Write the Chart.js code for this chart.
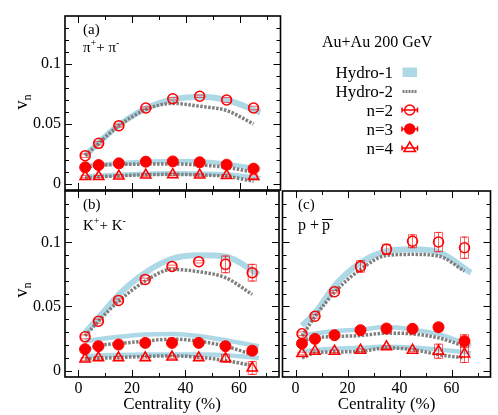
<!DOCTYPE html>
<html>
<head>
<meta charset="utf-8">
<script src="https://cdn.jsdelivr.net/npm/chart.js@4.4.1/dist/chart.umd.min.js"></script>
<style>
  body { margin: 0; background: #fff; }
  #wrap { position: relative; width: 498px; height: 415px; overflow: hidden; }
  canvas { position: absolute; }
  svg { position: absolute; left: 0; top: 0; }
</style>
</head>
<body>
<div id="wrap">
  <canvas id="pa" width="290" height="205" style="left:0px;top:0px"></canvas>
  <canvas id="pb" width="290" height="240" style="left:0px;top:175px"></canvas>
  <canvas id="pc" width="223" height="240" style="left:275px;top:175px"></canvas>
  <svg width="498" height="415" font-family="Liberation Serif, serif">
    <!-- y axis titles -->
    <text transform="translate(27,102) rotate(-90)" font-size="18" text-anchor="middle">v<tspan font-size="12" dy="4">n</tspan></text>
    <text transform="translate(27,290) rotate(-90)" font-size="18" text-anchor="middle">v<tspan font-size="12" dy="4">n</tspan></text>

    <!-- panel labels -->
    <g font-size="15">
      <text x="83" y="34">(a)</text>
      <text x="83" y="52">π<tspan font-size="10" dy="-6">+</tspan><tspan dy="6">+ π</tspan><tspan font-size="10" dy="-6">-</tspan></text>
      <text x="83" y="209">(b)</text>
      <text x="83" y="230">K<tspan font-size="10" dy="-6">+</tspan><tspan dy="6">+ K</tspan><tspan font-size="10" dy="-6">-</tspan></text>
      <text x="298" y="209">(c)</text>
      <text x="298" y="230" font-size="16">p +</text>
      <text x="322" y="230" font-size="16">p</text>
    </g>
    <line x1="322" y1="219.5" x2="333" y2="219.5" stroke="#000" stroke-width="1"/>

    <!-- legend -->
    <text x="322" y="46.5" font-size="16">Au+Au 200 GeV</text>
    <g font-size="17" text-anchor="end">
      <text x="393" y="77.5">Hydro-1</text>
      <text x="393" y="96.5">Hydro-2</text>
      <text x="393" y="115.5">n=2</text>
      <text x="393" y="134.5">n=3</text>
      <text x="393" y="153.5">n=4</text>
    </g>
    <rect x="402.5" y="67.5" width="14.5" height="9.5" fill="#add8e6"/>
    <line x1="402.5" y1="91.5" x2="417" y2="91.5" stroke="#7f7f7f" stroke-width="3" stroke-dasharray="2 1"/>
    <g stroke="#f00" stroke-width="1.5" fill="none">
      <circle cx="409.7" cy="110" r="5"/>
      <path d="M402 110H417.5M402 107.5V112.5M417.5 107.5V112.5"/>
      <circle cx="409.7" cy="129" r="5" fill="#f00"/>
      <path d="M402 129H417.5M402 126.5V131.5M417.5 126.5V131.5"/>
      <path d="M409.7 142L415.5 151.5H404Z"/>
      <path d="M402 148H417.5M402 145.5V150.5M417.5 145.5V150.5"/>
    </g>
  </svg>
</div>
<script>
const FONT = "'Liberation Serif', serif";

// centrality bins (%)
const cent = [2.5, 7.5, 15, 25, 35, 45, 55, 65];
const hydro1Cent = [2.5, 7.5, 15, 25, 35, 45, 55, 67.5];
const hydro2Cent = [2.5, 7.5, 15, 25, 35, 45, 55, 65];
const yTicks = [0, 0.05, 0.1];
const xTicks = [0, 20, 40, 60];

// (a) pi+ + pi-
const piV2 = [0.0236, 0.0339, 0.0486, 0.0633, 0.0710, 0.0731, 0.0700, 0.0633];
const piV3 = [0.0139, 0.0158, 0.0172, 0.0186, 0.0188, 0.0181, 0.0161, 0.0128];
const piV4 = [0.0062, 0.0062, 0.0066, 0.0075, 0.0078, 0.0075, 0.0070, 0.0062];
const piV2Err = [0.0015, 0.0015, 0.0012, 0.001, 0.001, 0.001, 0.002, 0.0015];
const piV3Err = [0.001, 0.001, 0.001, 0.001, 0.001, 0.001, 0.001, 0.001];
const piV4Err = [0.001, 0.001, 0.001, 0.001, 0.001, 0.001, 0.001, 0.0015];
const piHydro1V2 = [0.0236, 0.0345, 0.0490, 0.0630, 0.0705, 0.0728, 0.0700, 0.0597];
const piHydro1V3 = [0.0150, 0.0160, 0.0172, 0.0185, 0.0192, 0.0190, 0.0167, 0.0125];
const piHydro1V4 = [0.0062, 0.0070, 0.0078, 0.0085, 0.0089, 0.0087, 0.0081, 0.0045];
const piHydro2V2 = [0.0236, 0.0340, 0.0486, 0.0620, 0.0672, 0.0648, 0.0612, 0.0500];
const piHydro2V3 = [0.0140, 0.0155, 0.0163, 0.0166, 0.0167, 0.0158, 0.0139, 0.0097];
const piHydro2V4 = [0.0050, 0.0060, 0.0068, 0.0077, 0.0081, 0.0075, 0.0064, 0.0022];

// (b) K+ + K-
const kV2 = [0.0263, 0.0385, 0.0547, 0.0711, 0.0812, 0.0849, 0.0828, 0.0763];
const kV3 = [0.0167, 0.0190, 0.0203, 0.0216, 0.0216, 0.0216, 0.0190, 0.0155];
const kV4 = [0.0090, 0.0100, 0.0100, 0.0100, 0.0105, 0.0100, 0.0095, 0.0020];
const kV2Err = [0.0015, 0.0015, 0.0012, 0.001, 0.001, 0.001, 0.0065, 0.0065];
const kV3Err = [0.001, 0.001, 0.001, 0.001, 0.001, 0.001, 0.001, 0.003];
const kV4Err = [0.001, 0.001, 0.001, 0.001, 0.001, 0.001, 0.003, 0.005];
const kHydro1V2 = [0.0297, 0.0410, 0.0590, 0.0763, 0.0872, 0.0900, 0.0889, 0.0750];
const kHydro1V3 = [0.0229, 0.0245, 0.0263, 0.0281, 0.0286, 0.0270, 0.0237, 0.0190];
const kHydro1V4 = [0.0112, 0.0118, 0.0122, 0.0125, 0.0126, 0.0125, 0.0120, 0.0099];
const kHydro2V2 = [0.0270, 0.0385, 0.0540, 0.0698, 0.0789, 0.0771, 0.0724, 0.0594];
const kHydro2V3 = [0.0160, 0.0195, 0.0210, 0.0230, 0.0245, 0.0230, 0.0190, 0.0125];
const kHydro2V4 = [0.0091, 0.0095, 0.0102, 0.0110, 0.0115, 0.0104, 0.0078, 0.0039];

// (c) p + pbar
const pV2 = [0.0287, 0.0424, 0.0615, 0.0812, 0.0945, 0.1008, 0.1002, 0.0958];
const pV3 = [0.0211, 0.0247, 0.0276, 0.0315, 0.0328, 0.0326, 0.0338, 0.0229];
const pV4 = [0.0133, 0.0151, 0.0151, 0.0159, 0.0185, 0.0159, 0.0151, 0.0130];
const pV2Err = [0.0015, 0.0015, 0.001, 0.0045, 0.004, 0.005, 0.0075, 0.0083];
const pV3Err = [0.001, 0.001, 0.001, 0.001, 0.001, 0.001, 0.003, 0.005];
const pV4Err = [0.001, 0.001, 0.001, 0.001, 0.001, 0.001, 0.0055, 0.0067];
const pHydro1V2 = [0.0350, 0.0450, 0.0660, 0.0840, 0.0930, 0.0945, 0.0924, 0.0763];
const pHydro1V3 = [0.0276, 0.0290, 0.0307, 0.0320, 0.0339, 0.0320, 0.0284, 0.0195];
const pHydro1V4 = [0.0150, 0.0160, 0.0170, 0.0178, 0.0185, 0.0180, 0.0164, 0.0138];
const pHydro2V2 = [0.0270, 0.0420, 0.0610, 0.0789, 0.0898, 0.0906, 0.0893, 0.0776];
const pHydro2V3 = [0.0234, 0.0255, 0.0266, 0.0273, 0.0292, 0.0286, 0.0255, 0.0190];
const pHydro2V4 = [0.0099, 0.0138, 0.0145, 0.0150, 0.0177, 0.0164, 0.0125, 0.0099];

const pts = (xs, ys) => xs.map((x, i) => ({ x, y: ys[i] }));

// frame + inward major/minor ticks on all four sides
const framePlugin = {
  id: 'frame',
  afterDraw(chart) {
    const { ctx, chartArea: a, scales: { x, y } } = chart;
    ctx.save();
    ctx.strokeStyle = '#000';
    ctx.lineWidth = 1;
    ctx.beginPath();
    for (let v = 0; v <= 70; v += 10) {
      const px = Math.round(x.getPixelForValue(v)) + 0.5;
      const len = v % 20 === 0 ? 7 : 4;
      ctx.moveTo(px, a.bottom); ctx.lineTo(px, a.bottom - len);
      ctx.moveTo(px, a.top); ctx.lineTo(px, a.top + len);
    }
    for (let i = 0; i <= 13; i++) {
      const py = Math.round(y.getPixelForValue(i / 100)) + 0.5;
      const len = i % 5 === 0 ? 7 : 4;
      ctx.moveTo(a.left, py); ctx.lineTo(a.left + len, py);
      ctx.moveTo(a.right, py); ctx.lineTo(a.right - len, py);
    }
    ctx.stroke();
    ctx.lineWidth = 1.6;
    ctx.strokeRect(a.left, a.top, a.right - a.left, a.bottom - a.top);
    ctx.restore();
  }
};

// systematic error boxes around the data points
const boxPlugin = {
  id: 'boxes',
  afterDatasetsDraw(chart) {
    const { ctx, chartArea: a, scales: { y } } = chart;
    ctx.save();
    ctx.beginPath();
    ctx.rect(a.left, a.top, a.right - a.left, a.bottom - a.top);
    ctx.clip();
    ctx.strokeStyle = 'rgba(255,0,0,0.6)';
    ctx.lineWidth = 1;
    chart.data.datasets.forEach((ds, i) => {
      if (!ds.sys) return;
      const meta = chart.getDatasetMeta(i);
      meta.data.forEach((pt, j) => {
        const v = ds.data[j].y, e = ds.sys[j];
        const top = y.getPixelForValue(v + e), bot = y.getPixelForValue(v - e);
        ctx.strokeRect(pt.x - 4, top, 8, bot - top);
        if (e >= 0.003) {
          ctx.beginPath();
          ctx.moveTo(pt.x, top); ctx.lineTo(pt.x, bot);
          ctx.moveTo(pt.x - 2.5, top); ctx.lineTo(pt.x + 2.5, top);
          ctx.moveTo(pt.x - 2.5, bot); ctx.lineTo(pt.x + 2.5, bot);
          ctx.stroke();
        }
      });
    });
    ctx.restore();
  }
};

function panel(id, d, opt) {
  const datasets = [];
  [d.h1v2, d.h1v3, d.h1v4].forEach((v, k) => datasets.push({
    data: pts(hydro1Cent, v), borderColor: '#add8e6', borderWidth: k === 0 ? 6 : 4.5,
    pointRadius: 0, cubicInterpolationMode: 'monotone', order: 3
  }));
  [d.h2v2, d.h2v3, d.h2v4].forEach(v => datasets.push({
    data: pts(hydro2Cent, v), borderColor: '#7f7f7f', borderWidth: 3.5, borderDash: [2.5, 1.5],
    pointRadius: 0, cubicInterpolationMode: 'monotone', order: 2
  }));
  datasets.push({ data: pts(cent, d.v2), sys: d.e2, showLine: false, pointStyle: 'circle', pointRadius: 5,
    borderColor: '#f00', backgroundColor: 'rgba(0,0,0,0)', borderWidth: 1.5, order: 1 });
  datasets.push({ data: pts(cent, d.v3), sys: d.e3, showLine: false, pointStyle: 'circle', pointRadius: 5.5,
    borderColor: '#f00', backgroundColor: '#f00', borderWidth: 1, order: 1 });
  datasets.push({ data: pts(cent, d.v4), sys: d.e4, showLine: false, pointStyle: 'triangle', pointRadius: 6,
    borderColor: '#f00', backgroundColor: 'rgba(0,0,0,0)', borderWidth: 1.5, order: 1 });

  new Chart(document.getElementById(id), {
    type: 'line',
    data: { datasets },
    options: {
      responsive: false, animation: false, events: [], devicePixelRatio: 1,
      layout: { padding: opt.padding },
      plugins: { legend: { display: false }, tooltip: { enabled: false } },
      scales: {
        x: {
          type: 'linear', min: -5, max: 75,
          grid: { display: false, drawTicks: false }, border: { display: false },
          afterBuildTicks: s => { s.ticks = xTicks.map(value => ({ value })); },
          ticks: { display: opt.xLabels, autoSkip: false, maxRotation: 0, padding: 2,
            font: { family: FONT, size: 16 }, color: '#000' },
          title: { display: opt.xLabels, text: 'Centrality (%)', color: '#000',
            font: { family: FONT, size: 17 }, padding: { top: 0, bottom: 0 } },
          afterFit: s => { s.height = opt.xHeight; s.paddingLeft = 0; s.paddingRight = 0; }
        },
        y: {
          type: 'linear', min: -0.005, max: 0.14,
          grid: { display: false, drawTicks: false }, border: { display: false },
          afterBuildTicks: s => { s.ticks = yTicks.map(value => ({ value })); },
          ticks: { display: opt.yLabels, padding: 4, font: { family: FONT, size: 16 }, color: '#000',
            callback: v => (v === 0 ? '0' : String(v)) },
          afterFit: s => { s.width = opt.yWidth; s.paddingTop = 0; s.paddingBottom = 0; }
        }
      }
    },
    plugins: [boxPlugin, framePlugin]
  });
}

panel('pa', {
  v2: piV2, v3: piV3, v4: piV4, e2: piV2Err, e3: piV3Err, e4: piV4Err,
  h1v2: piHydro1V2, h1v3: piHydro1V3, h1v4: piHydro1V4,
  h2v2: piHydro2V2, h2v3: piHydro2V3, h2v4: piHydro2V4
}, { padding: { top: 16, right: 9.5, bottom: 15, left: 0 }, xLabels: false, xHeight: 0, yLabels: true, yWidth: 65 });

panel('pb', {
  v2: kV2, v3: kV3, v4: kV4, e2: kV2Err, e3: kV3Err, e4: kV4Err,
  h1v2: kHydro1V2, h1v3: kHydro1V3, h1v4: kHydro1V4,
  h2v2: kHydro2V2, h2v3: kHydro2V3, h2v4: kHydro2V4
}, { padding: { top: 16, right: 11, bottom: 0, left: 0 }, xLabels: true, xHeight: 38, yLabels: true, yWidth: 65 });

panel('pc', {
  v2: pV2, v3: pV3, v4: pV4, e2: pV2Err, e3: pV3Err, e4: pV4Err,
  h1v2: pHydro1V2, h1v3: pHydro1V3, h1v4: pHydro1V4,
  h2v2: pHydro2V2, h2v3: pHydro2V3, h2v4: pHydro2V4
}, { padding: { top: 16, right: 6, bottom: 0, left: 0 }, xLabels: true, xHeight: 38, yLabels: false, yWidth: 6 });
</script>
</body>
</html>
